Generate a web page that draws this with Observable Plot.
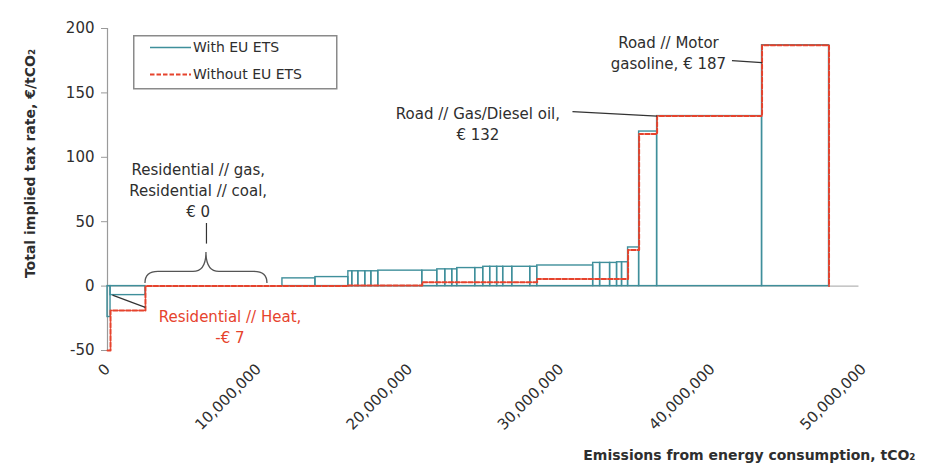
<!DOCTYPE html>
<html>
<head>
<meta charset="utf-8">
<script src="https://cdn.jsdelivr.net/npm/d3@7"></script>
<script src="https://cdn.jsdelivr.net/npm/@observablehq/plot@0.6"></script>
<style>
  body { margin: 0; background: #fff; }
  #chart { position: relative; width: 938px; height: 473px; font-family: "DejaVu Sans", sans-serif; }
  #legend { position: absolute; left: 133px; top: 35px; }
</style>
</head>
<body>
<div id="chart"></div>
<script>
// Axis ticks
const xTicks = [0, 10000000, 20000000, 30000000, 40000000, 50000000];
const yTicks = [-50, 0, 50, 100, 150, 200];

// Series shown in the legend
const seriesNames = ["With EU ETS", "Without EU ETS"];

// Sectors in curve order: emissions (tCO2) and implied tax rate (€/tCO2)
const emissions = [
  200000, 2310000, 4300000, 3770000, 990000, 2180000, 2180000,
  260000, 400000, 460000, 400000, 460000, 2910000, 990000,
  530000, 460000, 330000, 1190000, 530000, 460000, 460000,
  400000, 600000, 1190000, 460000, 3700000, 460000, 660000,
  460000, 330000, 400000, 730000, 1190000, 6940000, 4430000
];
const rateWithETS = [
  -24, -7, 0, 0, 0, 6, 7,
  11.5, 11.5, 11.5, 11.5, 11.5, 12, 12,
  13, 13, 13, 14, 14, 15, 15,
  15, 15, 15, 15, 16, 18, 18,
  18, 18.5, 18.5, 30, 120, 132, 187
];
const rateWithoutETS = [
  -50, -19, 0, 0, 0, 0, 0,
  0.5, 0.5, 0.5, 0.5, 0.5, 0.5, 3,
  3, 3, 3, 3, 3, 3, 3,
  3, 3, 3, 3, 5.5, 5.5, 5.5,
  5.5, 5.5, 5.5, 28, 118, 132, 187
];

// Sectors called out on the chart (indices into the arrays above)
const HEAT = 1, GAS = 2, COAL = 3, DIESEL = 33, GASOLINE = 34;

const teal = "#3f8f9b";
const red = "#e6432d";
const ink = "#2e2e2e";

// Lay the sectors end to end along the emissions axis
let acc = 0;
const sectors = emissions.map((e, i) => {
  const s = {start: acc, end: acc + e, withETS: rateWithETS[i], withoutETS: rateWithoutETS[i]};
  acc += e;
  return s;
});
const total = acc;

// Step outline of the rate without the EU ETS
const stepPoints = sectors.map(s => ({x: s.start, y: s.withoutETS}));
stepPoints.push({x: total, y: rateWithoutETS[rateWithoutETS.length - 1]}, {x: total, y: 0});

const fmtEuro = v => (v < 0 ? "-€ " : "€ ") + Math.abs(v);

const notes = [
  {x: 6.0e6, y: 75, fill: ink,
   text: `Residential // gas,\nResidential // coal,\n${fmtEuro(rateWithETS[GAS])}`},
  {x: 8.1e6, y: -31, fill: red,
   text: `Residential // Heat,\n${fmtEuro(rateWithETS[HEAT])}`},
  {x: 24.5e6, y: 126.5, fill: ink,
   text: `Road // Gas/Diesel oil,\n${fmtEuro(rateWithETS[DIESEL])}`},
  {x: 37.1e6, y: 182, fill: ink,
   text: `Road // Motor\ngasoline, ${fmtEuro(rateWithETS[GASOLINE])}`}
];

const braceMid = (sectors[GAS].start + sectors[COAL].end) / 2;
const leaders = [
  {x1: sectors[HEAT].start + 0.13e6, y1: rateWithETS[HEAT], x2: 2.5e6, y2: -16.5},
  {x1: braceMid, y1: 49, x2: braceMid, y2: 33},
  {x1: 30.75e6, y1: 135.5, x2: sectors[DIESEL].start, y2: rateWithETS[DIESEL]},
  {x1: 41.3e6, y1: 175, x2: sectors[GASOLINE].start, y2: 173.5}
];

// Curly brace over the residential gas and coal sectors
function brace(index, {x, y}) {
  const x0 = x(sectors[GAS].start), x1 = x(sectors[COAL].end), xm = x(braceMid);
  const yb = y(2), ya = y(11), yp = y(26), d = 13;
  const p = `M${x0},${yb} Q${x0},${ya} ${x0 + d},${ya} L${xm - d},${ya} Q${xm},${ya} ${xm},${yp}` +
            ` Q${xm},${ya} ${xm + d},${ya} L${x1 - d},${ya} Q${x1},${ya} ${x1},${yb}`;
  const path = document.createElementNS("http://www.w3.org/2000/svg", "path");
  path.setAttribute("d", p);
  path.setAttribute("fill", "none");
  path.setAttribute("stroke", "#555");
  path.setAttribute("stroke-width", "1.3");
  return path;
}

const chart = Plot.plot({
  width: 938,
  height: 473,
  marginLeft: 107,
  marginRight: 75,
  marginTop: 28,
  marginBottom: 123,
  style: {fontFamily: "DejaVu Sans, sans-serif", fontSize: "15px", color: ink, background: "white"},
  x: {domain: [0, 50000000]},
  y: {domain: [-50, 200]},
  marks: [
    Plot.ruleY([0], {x1: 0, x2: 49700000, stroke: "#b5b5b5", strokeWidth: 1.2}),
    Plot.ruleX([0], {y1: -50, y2: 200, stroke: "#9a9a9a", strokeWidth: 1.2}),
    Plot.axisY({ticks: yTicks, tickFormat: d => String(d), tickSize: 6, tickPadding: 7, stroke: "#9a9a9a", fill: ink, fontSize: 15, label: null}),
    Plot.axisX({ticks: xTicks, tickFormat: d3.format(","), tickRotate: -45, tickSize: 0, tickPadding: 16, fill: ink, fontSize: 15, label: null}),
    Plot.rect(sectors, {x1: "start", x2: "end", y1: () => 0, y2: "withETS", fill: "none", stroke: teal, strokeWidth: 1.4}),
    Plot.line(stepPoints, {x: "x", y: "y", curve: "step-after", stroke: red, strokeWidth: 2, strokeDasharray: "4.5,2"}),
    brace,
    Plot.link(leaders, {x1: "x1", y1: "y1", x2: "x2", y2: "y2", stroke: "#333", strokeWidth: 1.2}),
    Plot.text(notes, {x: "x", y: "y", text: "text", fill: "fill", lineAnchor: "middle", lineHeight: 1.4, fontSize: 15}),
    Plot.text(["Total implied tax rate, €/tCO₂"], {frameAnchor: "left", dx: -77, dy: -26, rotate: -90, textAnchor: "middle", lineAnchor: "middle", fontWeight: "bold", fontSize: 14, fill: ink}),
    Plot.text(["Emissions from energy consumption, tCO₂"], {frameAnchor: "bottom-right", dx: 52, dy: 105, textAnchor: "end", lineAnchor: "middle", fontWeight: "bold", fontSize: 14, fill: ink})
  ]
});

const root = document.getElementById("chart");
root.appendChild(chart);

// Legend box
const legend = d3.select(root).append("svg")
  .attr("id", "legend").attr("width", 206).attr("height", 56);
legend.append("rect").attr("x", 0.75).attr("y", 0.75).attr("width", 203).attr("height", 53)
  .attr("fill", "white").attr("stroke", "#8a8a8a").attr("stroke-width", 1.5);
const swatches = [
  {stroke: teal, dash: null},
  {stroke: red, dash: "4.5,2"}
];
seriesNames.forEach((name, i) => {
  const cy = 12.5 + i * 27;
  legend.append("line").attr("x1", 17).attr("x2", 58).attr("y1", cy).attr("y2", cy)
    .attr("stroke", swatches[i].stroke).attr("stroke-width", i ? 2 : 1.4)
    .attr("stroke-dasharray", swatches[i].dash);
  legend.append("text").attr("x", 60).attr("y", cy).attr("dy", "0.35em")
    .attr("font-family", "DejaVu Sans, sans-serif").attr("font-size", 14).attr("fill", ink)
    .text(name);
});
</script>
</body>
</html>
